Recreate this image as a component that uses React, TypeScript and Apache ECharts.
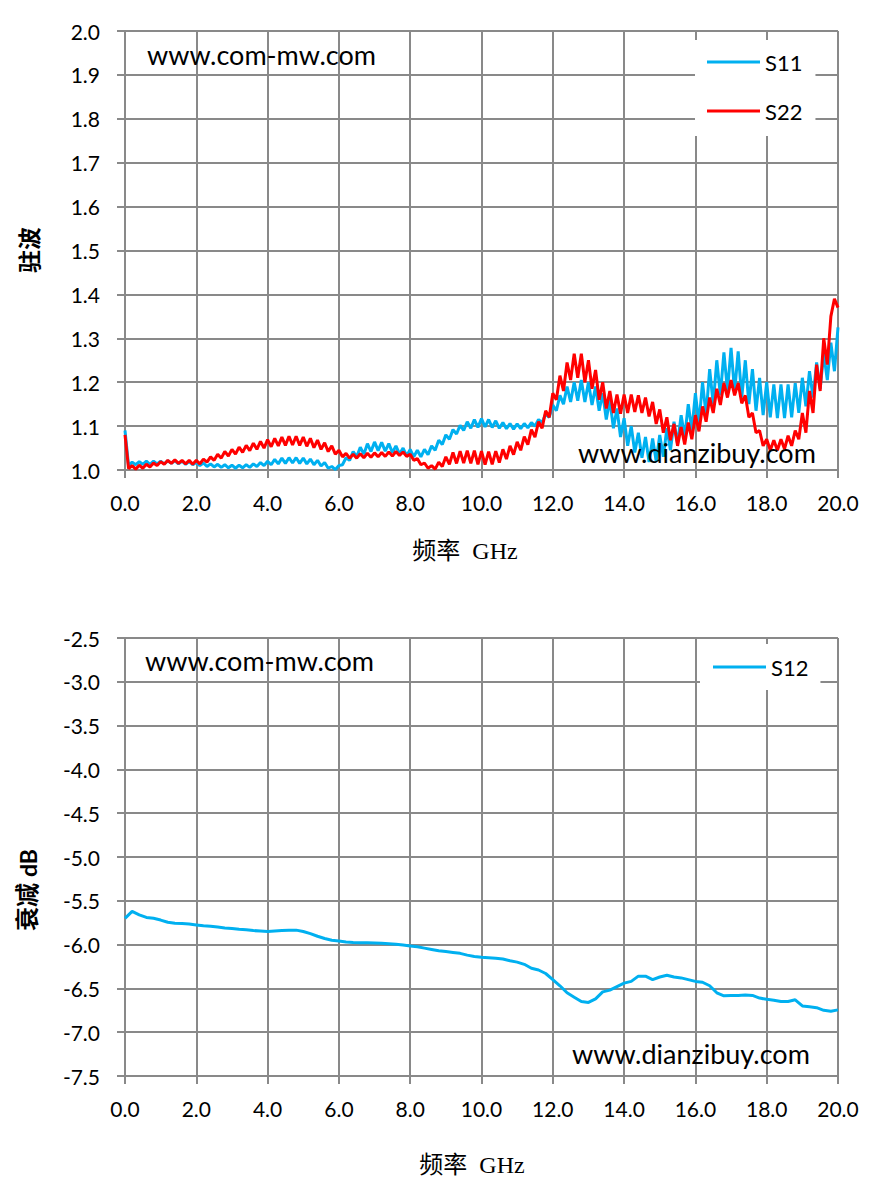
import React, { useEffect, useRef } from "react";
import * as echarts from "echarts";

// Sweep frequency grid (GHz), 0.1 GHz step for S11/S22, 0.2 GHz step for S12
const FREQ_VSWR: number[] = Array.from({ length: 201 }, (_, i) => i / 10);
const FREQ_S12: number[] = Array.from({ length: 101 }, (_, i) => (i * 2) / 10);

const X_TICKS = { min: 0, max: 20, interval: 2 };
const VSWR_TICKS = { min: 1.0, max: 2.0, interval: 0.1 };
const ATT_TICKS = { min: -7.5, max: -2.5, interval: 0.5 };

const S11: number[] = [
  1.09, 1.010, 1.018, 1.012, 1.019, 1.013, 1.020, 1.013, 1.020, 1.014,
  1.020, 1.014, 1.021, 1.015, 1.021, 1.014, 1.020, 1.013, 1.019, 1.012,
  1.017, 1.010, 1.016, 1.008, 1.014, 1.007, 1.013, 1.006, 1.012, 1.005,
  1.011, 1.004, 1.011, 1.005, 1.012, 1.006, 1.014, 1.008, 1.017, 1.010,
  1.020, 1.012, 1.024, 1.014, 1.027, 1.015, 1.028, 1.016, 1.028, 1.015,
  1.027, 1.014, 1.025, 1.012, 1.022, 1.009, 1.017, 1.004, 1.008, 1.001,
  1.010, 1.012, 1.028, 1.022, 1.042, 1.030, 1.052, 1.036, 1.060, 1.042,
  1.064, 1.044, 1.063, 1.043, 1.060, 1.040, 1.055, 1.036, 1.050, 1.032,
  1.047, 1.030, 1.045, 1.030, 1.047, 1.035, 1.055, 1.045, 1.068, 1.058,
  1.080, 1.070, 1.092, 1.082, 1.102, 1.090, 1.110, 1.095, 1.115, 1.097,
  1.117, 1.098, 1.115, 1.097, 1.112, 1.095, 1.108, 1.094, 1.106, 1.093,
  1.105, 1.094, 1.106, 1.096, 1.108, 1.100, 1.115, 1.108, 1.128, 1.120,
  1.148, 1.135, 1.170, 1.150, 1.190, 1.155, 1.200, 1.158, 1.205, 1.155,
  1.200, 1.148, 1.190, 1.135, 1.175, 1.115, 1.160, 1.095, 1.140, 1.075,
  1.118, 1.055, 1.100, 1.040, 1.085, 1.028, 1.075, 1.018, 1.072, 1.020,
  1.080, 1.030, 1.095, 1.045, 1.110, 1.060, 1.125, 1.075, 1.150, 1.090,
  1.175, 1.105, 1.200, 1.125, 1.230, 1.150, 1.250, 1.170, 1.268, 1.180,
  1.278, 1.178, 1.270, 1.165, 1.250, 1.150, 1.230, 1.135, 1.210, 1.125,
  1.200, 1.120, 1.195, 1.118, 1.195, 1.118, 1.195, 1.120, 1.198, 1.130,
  1.210, 1.145, 1.225, 1.165, 1.245, 1.185, 1.265, 1.205, 1.290, 1.225,
  1.325,
];

const S22: number[] = [
  1.08, 1.003, 1.010, 1.002, 1.011, 1.004, 1.013, 1.007, 1.016, 1.010,
  1.019, 1.013, 1.022, 1.015, 1.023, 1.015, 1.022, 1.014, 1.022, 1.013,
  1.022, 1.014, 1.025, 1.018, 1.030, 1.022, 1.036, 1.027, 1.042, 1.032,
  1.047, 1.036, 1.052, 1.040, 1.056, 1.044, 1.061, 1.047, 1.065, 1.050,
  1.069, 1.053, 1.072, 1.055, 1.075, 1.056, 1.077, 1.057, 1.077, 1.056,
  1.075, 1.054, 1.072, 1.051, 1.068, 1.047, 1.062, 1.042, 1.055, 1.036,
  1.045, 1.030, 1.038, 1.027, 1.036, 1.027, 1.037, 1.028, 1.038, 1.029,
  1.039, 1.030, 1.040, 1.031, 1.041, 1.032, 1.042, 1.033, 1.041, 1.031,
  1.036, 1.022, 1.026, 1.012, 1.016, 1.004, 1.010, 1.002, 1.018, 1.008,
  1.030, 1.013, 1.040, 1.015, 1.043, 1.016, 1.044, 1.015, 1.044, 1.013,
  1.043, 1.012, 1.042, 1.013, 1.043, 1.017, 1.047, 1.025, 1.055, 1.035,
  1.064, 1.045, 1.076, 1.058, 1.092, 1.075, 1.110, 1.095, 1.135, 1.120,
  1.175, 1.160, 1.215, 1.180, 1.245, 1.205, 1.265, 1.210, 1.265, 1.200,
  1.250, 1.185, 1.228, 1.160, 1.200, 1.140, 1.180, 1.130, 1.172, 1.128,
  1.172, 1.130, 1.172, 1.132, 1.170, 1.130, 1.165, 1.122, 1.155, 1.105,
  1.138, 1.085, 1.120, 1.068, 1.105, 1.055, 1.098, 1.058, 1.108, 1.070,
  1.125, 1.088, 1.145, 1.110, 1.165, 1.130, 1.185, 1.148, 1.198, 1.165,
  1.205, 1.170, 1.198, 1.152, 1.170, 1.120, 1.130, 1.085, 1.090, 1.055,
  1.070, 1.045, 1.068, 1.045, 1.070, 1.048, 1.078, 1.055, 1.090, 1.070,
  1.130, 1.085, 1.180, 1.130, 1.240, 1.180, 1.300, 1.240, 1.350, 1.390,
  1.370,
];

const S12: number[] = [
  -5.70, -5.62, -5.66, -5.69, -5.70, -5.72, -5.745, -5.755, -5.76, -5.765,
  -5.775, -5.785, -5.79, -5.80, -5.81, -5.815, -5.825, -5.83, -5.84, -5.845,
  -5.85, -5.845, -5.84, -5.835, -5.835, -5.85, -5.875, -5.905, -5.93, -5.95,
  -5.96, -5.97, -5.975, -5.978, -5.98, -5.982, -5.985, -5.99, -5.995, -6.005,
  -6.015, -6.025, -6.04, -6.055, -6.07, -6.08, -6.09, -6.10, -6.12, -6.135,
  -6.145, -6.15, -6.155, -6.165, -6.185, -6.20, -6.225, -6.27, -6.29, -6.33,
  -6.40, -6.47, -6.55, -6.60, -6.65, -6.66, -6.62, -6.54, -6.52, -6.48,
  -6.44, -6.42, -6.36, -6.36, -6.40, -6.37, -6.35, -6.37, -6.38, -6.40,
  -6.42, -6.43, -6.47, -6.55, -6.585, -6.58, -6.58, -6.575, -6.58, -6.61,
  -6.625, -6.635, -6.65, -6.65, -6.63, -6.70, -6.71, -6.72, -6.75, -6.76,
  -6.745,
];

const BLUE = "#00B0F0";
const RED = "#FF0000";
const GRID_COLOR = "#898989";
const FONT = "Lato, 'Liberation Sans', sans-serif";
const CJK = "'Liberation Serif', 'Noto Sans CJK SC', serif";

function pairs(xs: number[], ys: number[]) {
  return ys.map((v, i) => [xs[i], v]);
}

function xAxisCfg(gridIndex: number) {
  return {
    type: "value" as const,
    gridIndex,
    min: X_TICKS.min,
    max: X_TICKS.max,
    interval: X_TICKS.interval,
    axisLine: { show: true, lineStyle: { color: GRID_COLOR, width: 2 } },
    axisTick: { show: true, length: 8, lineStyle: { color: GRID_COLOR, width: 2 } },
    splitLine: { show: true, lineStyle: { color: GRID_COLOR, width: 2 } },
    axisLabel: {
      color: "#000",
      fontSize: 21,
      fontFamily: FONT,
      margin: 22,
      formatter: (v: number) => v.toFixed(1),
    },
  };
}

function yAxisCfg(gridIndex: number, t: { min: number; max: number; interval: number }) {
  return {
    type: "value" as const,
    gridIndex,
    min: t.min,
    max: t.max,
    interval: t.interval,
    axisLine: { show: true, lineStyle: { color: GRID_COLOR, width: 2 } },
    axisTick: { show: true, length: 8, lineStyle: { color: GRID_COLOR, width: 2 } },
    splitLine: { show: true, lineStyle: { color: GRID_COLOR, width: 2 } },
    axisLabel: {
      color: "#000",
      fontSize: 21,
      fontFamily: FONT,
      margin: 25,
      formatter: (v: number) => v.toFixed(1),
    },
  };
}

export default function App() {
  const ref = useRef<HTMLDivElement>(null);

  useEffect(() => {
    if (!ref.current) return;
    const chart = echarts.init(ref.current, undefined, { renderer: "svg" });
    const lineSeries = (name: string, data: number[][], color: string, idx: number) => ({
      name,
      type: "line" as const,
      xAxisIndex: idx,
      yAxisIndex: idx,
      data,
      showSymbol: false,
      symbol: "none",
      lineStyle: { color, width: 3 },
      itemStyle: { color },
      z: 3,
    });
    chart.setOption({
      animation: false,
      backgroundColor: "#fff",
      grid: [
        { left: 125, top: 31, width: 713, height: 439 },
        { left: 125, top: 638, width: 713, height: 438 },
      ],
      xAxis: [xAxisCfg(0), xAxisCfg(1)],
      yAxis: [yAxisCfg(0, VSWR_TICKS), yAxisCfg(1, ATT_TICKS)],
      legend: [
        {
          data: ["S11", "S22"],
          orient: "vertical",
          left: 695,
          top: 40,
          padding: [11, 13, 14, 12],
          itemGap: 27,
          itemWidth: 53,
          itemHeight: 3,
          icon: "rect",
          backgroundColor: "#fff",
          textStyle: { fontSize: 22, fontFamily: FONT, color: "#000" },
        },
        {
          data: ["S12"],
          orient: "vertical",
          left: 700,
          top: 644,
          padding: [12, 12, 12, 13],
          itemWidth: 53,
          itemHeight: 3,
          icon: "rect",
          backgroundColor: "#fff",
          textStyle: { fontSize: 22, fontFamily: FONT, color: "#000" },
        },
      ],
      graphic: [
        { type: "text", z: 100, style: { text: "www.com-mw.com", x: 147, y: 54, fill: "#000", font: `27px ${FONT}`, verticalAlign: "middle" } },
        { type: "text", z: 100, style: { text: "www.dianzibuy.com", x: 578, y: 452, fill: "#000", font: `27px ${FONT}`, verticalAlign: "middle" } },
        { type: "text", z: 100, style: { text: "www.com-mw.com", x: 145, y: 660, fill: "#000", font: `27px ${FONT}`, verticalAlign: "middle" } },
        { type: "text", z: 100, style: { text: "www.dianzibuy.com", x: 572, y: 1053, fill: "#000", font: `27px ${FONT}`, verticalAlign: "middle" } },
        { type: "text", style: { text: "频率  GHz", x: 465, y: 551, fill: "#000", font: `24px ${CJK}`, align: "center", verticalAlign: "middle" } },
        { type: "text", style: { text: "频率  GHz", x: 472, y: 1165, fill: "#000", font: `24px ${CJK}`, align: "center", verticalAlign: "middle" } },
        { type: "text", x: 30, y: 250, rotation: Math.PI / 2, style: { text: "驻波", x: 0, y: 0, fill: "#000", font: `bold 23px ${CJK}`, align: "center", verticalAlign: "middle" } },
        {
          type: "text",
          x: 28,
          y: 890,
          rotation: Math.PI / 2,
          style: {
            text: "{a|衰减 }{b|dB}",
            x: 0,
            y: 0,
            align: "center",
            verticalAlign: "middle",
            rich: {
              a: { fontSize: 24, fontFamily: CJK, fontWeight: "bold", fill: "#000" },
              b: { fontSize: 23, fontFamily: FONT, fontWeight: "bold", fill: "#000" },
            },
          },
        },
      ],
      series: [
        lineSeries("S11", pairs(FREQ_VSWR, S11), BLUE, 0),
        lineSeries("S22", pairs(FREQ_VSWR, S22), RED, 0),
        lineSeries("S12", pairs(FREQ_S12, S12), BLUE, 1),
      ],
    });
    return () => chart.dispose();
  }, []);

  return (
    <div
      ref={ref}
      style={{ position: "absolute", left: 0, top: 0, width: 877, height: 1188, background: "#fff" }}
    />
  );
}
